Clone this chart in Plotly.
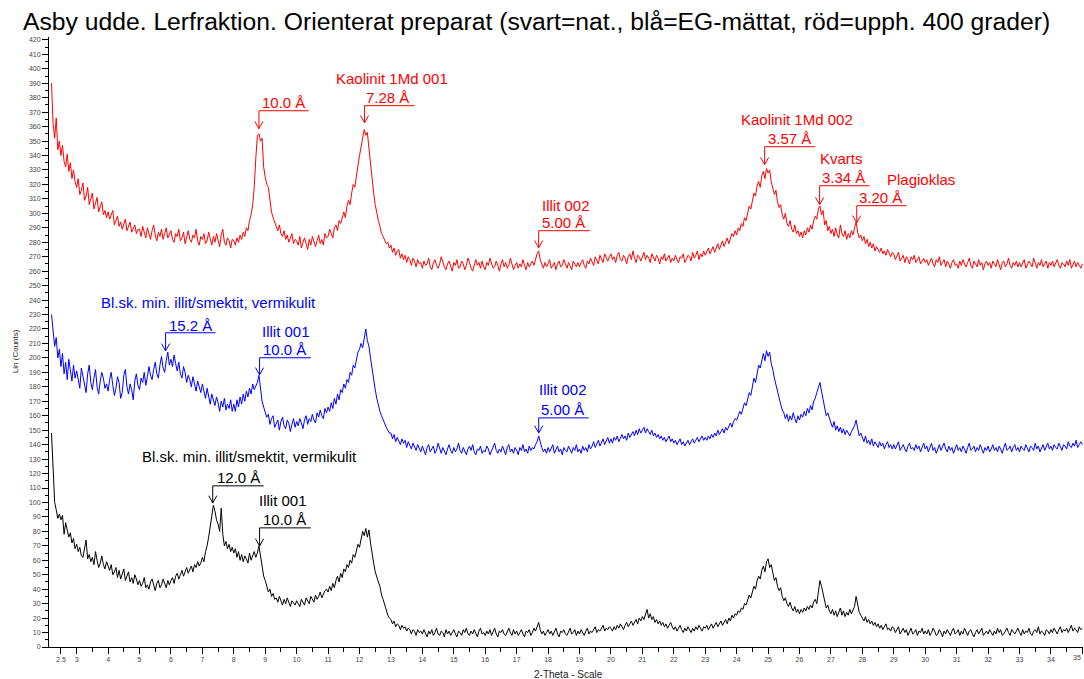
import numpy as np
import plotly.graph_objects as go

THETA_START = 2.2
THETA_STEP = 0.05

# Red trace: heated to 400 grader (counts), 2.20 .. 35.00
RED = [
    390, 362, 352, 366, 344, 350, 340, 347, 336, 332,
    341, 329, 335, 324, 330, 322,
    318, 324, 313, 316, 321, 309, 312, 318, 306, 310,
    314, 303, 308, 311, 301, 305, 308, 299, 302, 297,
    301, 296, 299, 302, 292, 295, 298, 291, 294, 289,
    293, 296, 288, 291, 294, 287, 290, 292, 286, 289,
    289, 284, 291, 287, 283, 290, 286, 282, 288, 292,
    285, 281, 287, 284, 289, 282, 286, 290, 283, 285,
    288, 282, 280, 286, 284, 289, 281, 283, 287, 279,
    284, 288, 282, 280, 285, 283, 289, 281, 278, 284,
    282, 286, 279, 281, 287, 283, 278, 284, 280, 286,
    282, 277, 285, 289, 280, 278, 283, 281, 276, 282,
    281, 278, 283, 280, 285, 282, 287, 284, 290, 288,
    295, 299, 306, 318, 338, 354, 355, 350, 352, 332,
    325, 320, 318, 308, 301, 297, 294, 290, 288, 292,
    286, 284, 288, 282, 285, 280, 283, 286, 279, 282,
    281, 278, 284, 276, 280, 283, 279, 275, 282, 278,
    284, 280, 277, 281, 285, 279, 282, 278, 286, 283,
    284, 289, 286, 283, 290, 292, 288, 295, 293, 298,
    301, 297, 305, 309, 306, 314, 320, 318, 327, 333,
    340, 346, 352, 358, 354, 356, 345, 333, 325, 314,
    306, 300, 295, 291, 286, 284, 281, 279, 280, 276,
    278, 273, 276, 271, 274, 275, 269, 272, 268, 271,
    266, 270, 268, 264, 269, 267, 263, 268, 265, 266,
    262, 267, 264, 265, 269, 263, 261, 266, 268, 264,
    262, 265, 270, 266, 263, 261, 265, 267, 263, 260,
    266, 264, 268, 262, 263, 267, 265, 261, 264, 269,
    266, 262, 260, 265, 268, 264, 266, 262, 267, 263,
    261, 266, 264, 269, 265, 262, 263, 267, 264, 260,
    265, 268, 263, 266, 262, 264, 269, 265, 261, 264,
    266, 262, 265, 263, 268, 264, 261, 266, 263, 265,
    267, 264, 269, 272, 274, 268, 265, 262, 266, 263,
    265, 268, 262, 264, 266, 261, 265, 267, 263, 264,
    268, 265, 262, 266, 264, 261, 267, 265, 263, 266,
    263, 266, 268, 264, 262, 267, 265, 269, 266, 264,
    270, 267, 265, 271, 268, 266, 272, 269, 267, 270,
    272, 268, 270, 266, 271, 273, 268, 267, 271, 269,
    265, 270, 272, 268, 274, 269, 266, 271, 270, 267,
    270, 273, 268, 271, 269, 266, 272, 270, 267, 271,
    269, 265, 270, 268, 272, 267, 269, 271, 266, 269,
    267, 271, 268, 266, 270, 269, 272, 266, 268, 271,
    270, 267, 273, 269, 271, 274, 268, 272, 270, 274,
    271, 273, 276, 272, 274, 277, 273, 276, 279, 275,
    278, 281, 277, 280, 283, 279, 282, 286, 284, 288,
    285, 290, 288, 293, 291, 297, 295, 301, 305, 303,
    309, 314, 312, 319, 322, 318, 326, 329, 324, 331,
    328, 330, 322, 318, 313, 316, 308, 304, 306, 299,
    296, 300, 293, 291, 295, 289, 287, 292, 286, 288,
    284, 287, 283, 288, 285, 290, 287, 292, 289, 295,
    298, 296, 303, 305, 299, 302, 292, 295, 288, 291,
    286, 289, 284, 290, 285, 283, 292, 286, 284, 288,
    282, 286, 283, 288, 285, 290, 294, 287, 283, 285,
    281, 284, 279, 282, 277, 280, 276, 279, 274, 277,
    275, 273, 276, 272, 274, 271, 275, 272, 270, 273,
    272, 268, 270, 273, 267, 269, 271, 266, 270, 268,
    265, 270, 268, 271, 266, 268, 270, 265, 267, 269,
    266, 268, 264, 267, 269, 265, 263, 268, 266, 270,
    264, 266, 268, 263, 267, 265, 262, 266, 268, 264,
    265, 262, 267, 264, 268, 265, 263, 266, 269, 264,
    262, 267, 265, 263, 268, 264, 266, 261, 265, 267,
    264, 266, 262, 267, 265, 263, 268, 264, 261, 266,
    267, 263, 265, 269, 264, 262, 266, 264, 267, 263,
    266, 263, 265, 268, 262, 264, 267, 265, 263, 269,
    265, 262, 266, 264, 268, 263, 265, 267, 262, 266,
    264, 267, 263, 265, 268, 264, 262, 266, 265, 263,
    267, 264, 268, 262, 265, 267, 263, 266, 264, 262,
    265,
]

# Blue trace: EG-maettat (counts)
BLUE = [
    230, 221, 208, 214, 200, 206, 194, 203, 189, 197,
    185, 199, 190, 184, 195, 186,
    191, 184, 179, 193, 187, 181, 176, 189, 195, 183,
    178, 186, 192, 180, 175, 184, 190, 186, 179, 182,
    177, 185, 190, 181, 174, 179, 187, 183, 172, 176,
    188, 192, 180, 175, 182, 178, 171, 184, 189, 181,
    178, 186, 183, 190, 181, 187, 194, 188, 185, 192,
    197, 189, 186, 195, 201, 193, 190, 198, 204, 195,
    199, 194, 202, 196, 191, 197, 189, 186, 194, 190,
    183, 188, 185, 180, 187, 182, 177, 184, 179, 176,
    182, 177, 172, 179, 174, 168, 175, 171, 167, 173,
    169, 163, 170, 166, 172, 164, 168, 165, 171, 163,
    168, 163, 171, 166, 173, 168, 175, 170, 177, 173,
    179, 175, 182, 178, 181, 183, 188, 178, 170, 166,
    163, 159, 161, 154, 158, 160, 152, 155, 157, 150,
    156, 159, 153, 151, 157, 155, 149, 154, 158, 152,
    156, 153, 158, 155, 151, 157, 160, 154, 158, 156,
    161, 157, 155, 162, 159, 164, 160, 158, 165, 162,
    166, 163, 169, 165, 172, 168, 175, 171, 178, 176,
    182, 179, 185, 183, 190, 188, 195, 193, 200, 204,
    206, 210, 207, 214, 220, 212, 208, 200, 192, 185,
    178, 172, 167, 163, 160, 157, 154, 152, 150, 148,
    148, 144, 147, 142, 145, 143, 140, 144, 141, 143,
    138, 142, 140, 137, 141, 139, 136, 140, 138, 135,
    139, 136, 133, 138, 140, 135, 137, 139, 134, 136,
    141, 137, 134, 138, 136, 133, 137, 140, 136, 134,
    138, 135, 137, 141, 136, 134, 138, 135, 133, 137,
    139, 136, 140, 135, 133, 137, 136, 139, 134, 136,
    135, 139, 137, 133, 136, 138, 141, 136, 134, 137,
    135, 139, 136, 133, 138, 140, 135, 137, 134, 138,
    136, 133, 138, 136, 140, 135, 137, 134, 139, 136,
    138, 137, 140, 142, 146, 141, 138, 135, 137, 134,
    138, 135, 137, 140, 134, 136, 139, 135, 137, 133,
    138, 136, 135, 139, 137, 134, 138, 136, 140, 135,
    137, 134, 139, 136, 138, 135, 140, 137, 139, 142,
    138, 140, 143, 139, 141, 144, 140, 143, 145, 141,
    144, 141, 145, 143, 146, 142, 145, 147, 144, 146,
    143, 148, 145, 147, 149, 146, 150, 147, 151, 148,
    150, 152, 148, 151, 149, 147, 150, 146, 148, 145,
    147, 144, 146, 143, 145, 142, 144, 146, 142, 144,
    141, 143, 140, 142, 144, 140, 142, 139, 141, 143,
    140, 142, 144, 141, 143, 145, 142, 144, 146, 143,
    145, 143, 146, 144, 147, 145, 148, 146, 150, 147,
    149, 151, 148, 152, 150, 153, 155, 152, 156, 158,
    157, 160, 163, 161, 166, 169, 167, 172, 176, 174,
    181, 186, 183, 190, 195, 193, 199, 203, 198, 205,
    201, 204, 196, 192, 186, 181, 176, 172, 168, 164,
    162, 158, 161, 156, 160, 157, 162, 158, 155, 160,
    157, 161, 159, 163, 160, 165, 162, 167, 164, 170,
    172, 176, 180, 183, 177, 171, 164, 160, 162, 158,
    155, 152, 156, 150, 153, 149, 152, 148, 151, 147,
    150, 148, 146, 149, 151, 153, 157, 150, 146, 148,
    145, 142, 146, 141, 143, 140, 144, 139, 142, 140,
    138, 142, 139, 141, 137, 140, 142, 138, 140, 137,
    140, 137, 139, 142, 136, 138, 140, 137, 135, 139,
    141, 137, 138, 136, 140, 137, 139, 135, 138, 141,
    137, 139, 135, 138, 141, 136, 138, 134, 137, 140,
    136, 138, 141, 137, 135, 139, 136, 138, 134, 137,
    140, 136, 138, 135, 139, 137, 134, 138, 141, 136,
    137, 139, 135, 138, 136, 140, 137, 134, 138, 136,
    139, 135, 137, 140, 136, 138, 135, 139, 137, 134,
    138, 141, 136, 137, 139, 135, 138, 140, 136, 138,
    135, 139, 137, 136, 140, 137, 135, 139, 138, 136,
    141, 137, 139, 135, 138, 140, 136, 138, 141, 137,
    139, 136, 140, 138, 137, 141, 138, 136, 140, 139,
    137, 142, 139, 138, 141, 139, 143, 138, 140, 142,
    140,
]

# Black trace: natural (counts)
BLACK = [
    148, 122, 100, 95, 89, 92, 88, 91, 78, 86,
    81, 76, 79, 72, 75, 68,
    71, 66, 69, 63, 62, 68, 74, 61, 64, 59,
    62, 57, 66, 60, 55, 58, 63, 57, 54, 59,
    56, 53, 57, 50, 52, 55, 48, 53, 47, 50,
    54, 46, 49, 52, 45, 48, 44, 50, 47, 43,
    46, 42, 44, 48, 41, 43, 40, 45, 47, 42,
    39, 44, 46, 41, 43, 47, 44, 41, 46, 43,
    46, 48, 44, 49, 51, 47, 50, 53, 49, 52,
    55, 51, 54, 56, 52, 57, 55, 59, 56, 58,
    62, 59, 66, 70, 76, 84, 90, 98, 94, 88,
    85, 80, 96, 78, 70, 73, 68, 71, 66, 69,
    65, 68, 62, 66, 60, 64, 59, 63, 61, 58,
    65, 60, 63, 66, 62, 65, 70, 63, 55, 49,
    46, 42, 38, 40, 35, 37, 33, 34, 31, 35,
    32, 29, 33, 30, 34, 31, 28, 32, 30, 29,
    32, 30, 28, 33, 31, 29, 34, 32, 30, 35,
    33, 31, 36, 33, 35, 38, 34, 37, 39, 40,
    38, 42, 39, 44, 41, 46, 49, 45, 51, 48,
    54, 52, 57, 55, 60, 58, 64, 62, 67, 71,
    69, 74, 80, 77, 82, 76, 81, 72, 63, 58,
    52, 48, 45, 42, 36, 33, 29, 26, 22, 20,
    19, 16, 18, 14, 16, 15, 12, 15, 13, 14,
    11, 13, 12, 9, 12, 11, 8, 12, 10, 11,
    9, 12, 10, 7, 11, 9, 12, 8, 10, 13,
    9, 8, 11, 10, 7, 12, 9, 11, 8, 10,
    12, 9, 7, 11, 10, 8, 12, 10, 13, 9,
    8, 11, 9, 12, 10, 7, 11, 13, 9, 10,
    8, 11, 9, 12, 8, 10, 13, 9, 7, 11,
    10, 12, 9, 8, 11, 13, 10, 8, 12, 9,
    11, 8, 10, 12, 9, 7, 11, 10, 12, 8,
    10, 13, 11, 14, 17, 12, 9, 11, 8, 10,
    12, 9, 11, 8, 10, 13, 9, 7, 11, 10,
    12, 9, 8, 11, 13, 9, 10, 12, 8, 11,
    9, 12, 10, 8, 11, 13, 9, 11, 10, 12,
    14, 10, 12, 11, 13, 15, 11, 13, 12, 14,
    13, 11, 14, 12, 15, 13, 16, 14, 12, 15,
    17, 14, 16, 18, 15, 17, 19, 16, 20, 18,
    21, 19, 22, 26, 20, 23, 19, 21, 17, 19,
    16, 18, 15, 17, 14, 16, 13, 15, 17, 14,
    12, 14, 11, 13, 15, 12, 10, 13, 11, 14,
    12, 10, 13, 11, 14, 12, 15, 13, 11, 14,
    13, 15, 12, 14, 16, 13, 15, 17, 14, 16,
    18, 15, 17, 19, 16, 20, 18, 22, 20, 23,
    22, 25, 24, 27, 26, 30, 29, 33, 36, 34,
    39, 42, 40, 46, 49, 47, 53, 56, 52, 59,
    61, 55, 57, 50, 46, 48, 42, 39, 41, 35,
    32, 34, 30, 28, 31, 27, 25, 28, 24, 26,
    23, 26, 24, 27, 25, 28, 26, 29, 27, 31,
    33, 30, 38, 46, 42, 37, 31, 27, 29, 25,
    23, 26, 22, 25, 21, 24, 27, 22, 25, 21,
    24, 22, 26, 23, 25, 28, 35, 30, 24, 22,
    20, 18, 21, 17, 19, 16, 18, 15, 17, 14,
    16, 13, 15, 12, 14, 16, 12, 13, 11, 14,
    13, 10, 12, 14, 9, 11, 13, 10, 12, 8,
    11, 13, 9, 10, 12, 8, 11, 10, 13, 9,
    11, 9, 12, 8, 10, 13, 11, 8, 9, 12,
    10, 7, 11, 9, 12, 10, 8, 11, 13, 9,
    10, 12, 8, 11, 9, 13, 10, 8, 11, 12,
    9, 7, 10, 12, 9, 11, 13, 8, 10, 11,
    9, 12, 10, 8, 11, 9, 13, 10, 12, 8,
    9, 11, 13, 10, 8, 12, 10, 9, 11, 13,
    10, 8, 12, 9, 11, 10, 13, 9, 8, 11,
    12, 10, 14, 9, 11, 10, 8, 12, 11, 9,
    12, 10, 13, 11, 9, 12, 14, 10, 12, 11,
    13, 10, 12, 15, 11, 13, 12, 10, 14, 12,
    13,
]

X_TICKS = [2.5] + list(range(3, 36))
X_TICK_LABELS = ["2.5"] + [str(v) for v in range(3, 36)]
Y_TICKS = list(range(0, 421, 10))

TITLE = "Asby udde. Lerfraktion. Orienterat preparat (svart=nat., blå=EG-mättat, röd=upph. 400 grader)"

COLORS = {"red": "#FF0000", "blue": "#0000FF", "black": "#000000"}

# peak labels: colour, arrow x, arrow tip y, bracket y, bracket end x, texts (text, centre x, centre y)
LABELS = [
    ("red", 8.80, 358.6, 371.0, 10.38, [("10.0 Å", 9.59, 376.6)]),
    ("red", 12.16, 362.7, 374.5, 13.75, [("Kaolinit 1Md 001", 13.04, 393.2), ("7.28 Å", 12.90, 380.0)]),
    ("red", 17.70, 276.2, 288.0, 19.32, [("Illit 002", 18.56, 305.3), ("5.00 Å", 18.48, 293.5)]),
    ("red", 24.89, 333.7, 346.1, 26.49, [("Kaolinit 1Md 002", 25.92, 364.8), ("3.57 Å", 25.67, 351.7)]),
    ("red", 26.64, 306.0, 319.1, 28.23, [("Kvarts", 27.34, 337.8), ("3.34 Å", 27.40, 324.7)]),
    ("red", 27.82, 293.5, 305.3, 29.41, [("Plagioklas", 29.86, 323.3), ("3.20 Å", 28.57, 310.8)]),
    ("blue", 5.83, 204.9, 217.4, 7.42, [("Bl.sk. min. illit/smektit, vermikulit", 7.21, 238.1), ("15.2 Å", 6.61, 222.2)]),
    ("blue", 8.82, 188.3, 200.1, 10.45, [("Illit 001", 9.65, 218.1), ("10.0 Å", 9.60, 205.6)]),
    ("blue", 17.70, 148.1, 158.5, 19.29, [("Illit 002", 18.46, 177.9), ("5.00 Å", 18.45, 164.1)]),
    ("black", 7.33, 99.7, 111.5, 8.95, [("Bl.sk. min. illit/smektit, vermikulit", 8.49, 131.5), ("12.0 Å", 8.14, 117.0)]),
    ("black", 8.82, 69.9, 82.4, 10.45, [("Illit 001", 9.57, 101.1), ("10.0 Å", 9.62, 87.9)]),
]


def theta_grid(n):
    return np.round(THETA_START + THETA_STEP * np.arange(n), 3)


FONT = "Liberation Sans, Arial, sans-serif"

fig = go.Figure()
for ys, col in ((BLACK, "black"), (BLUE, "blue"), (RED, "red")):
    fig.add_trace(go.Scatter(x=theta_grid(len(ys)), y=ys, mode="lines",
                             line=dict(color=COLORS[col], width=1), showlegend=False,
                             hoverinfo="skip"))

shapes = []
annotations = []
HEAD_DX = 0.13
HEAD_DY = 5.0
for col, ax, tip, ly, ex, texts in LABELS:
    c = COLORS[col]
    path = (f"M {ex},{ly} L {ax},{ly} L {ax},{tip} "
            f"M {ax - HEAD_DX},{tip + HEAD_DY} L {ax},{tip} L {ax + HEAD_DX},{tip + HEAD_DY}")
    shapes.append(dict(type="path", path=path, xref="x", yref="y",
                       line=dict(color=c, width=1)))
    for t, cx, cy in texts:
        annotations.append(dict(text=t, x=cx, y=cy, xref="x", yref="y",
                                showarrow=False, xanchor="center", yanchor="middle",
                                font=dict(family=FONT, size=15, color=c)))

annotations.append(dict(text=TITLE, x=0.471, y=1.0246, xref="paper", yref="paper",
                        showarrow=False, xanchor="center", yanchor="middle",
                        font=dict(family=FONT, size=24.7, color="#000")))
annotations.append(dict(text="Lin (Counts)", x=-0.0329, y=0.485, xref="paper", yref="paper",
                        showarrow=False, textangle=-90, xanchor="center", yanchor="middle",
                        font=dict(family=FONT, size=8, color="#222")))
annotations.append(dict(text="2-Theta - Scale", x=0.502, y=-0.0443, xref="paper", yref="paper",
                        showarrow=False, xanchor="center", yanchor="middle",
                        font=dict(family=FONT, size=10, color="#222")))
# last x tick label, kept fully inside the right edge of the page
annotations.append(dict(text=X_TICK_LABELS[-1], x=1.0, y=-0.0175, xref="paper", yref="paper",
                        showarrow=False, xanchor="right", yanchor="middle",
                        font=dict(family=FONT, size=7, color="#444")))

fig.update_layout(
    width=1084, height=679,
    margin=dict(l=49, r=1, t=37, b=32),
    paper_bgcolor="white", plot_bgcolor="white",
    shapes=shapes, annotations=annotations,
    showlegend=False,
    xaxis=dict(range=[2.12, 35.02], showgrid=False, zeroline=False,
               showline=True, linecolor="#000", linewidth=1,
               tickmode="array", tickvals=X_TICKS, ticktext=X_TICK_LABELS,
               ticks="outside", ticklen=6, tickwidth=1, tickcolor="#000",
               tickfont=dict(family=FONT, size=7, color="#444"),
               minor=dict(dtick=0.5, tick0=2.5, ticks="outside", ticklen=4,
                          tickwidth=1, tickcolor="#000", showgrid=False)),
    yaxis=dict(range=[0, 422], showgrid=False, zeroline=False,
               showline=True, linecolor="#000", linewidth=1,
               tickmode="array", tickvals=Y_TICKS,
               ticks="outside", ticklen=6, tickwidth=1, tickcolor="#000",
               tickfont=dict(family=FONT, size=7, color="#444"),
               minor=dict(dtick=5, tick0=0, ticks="outside", ticklen=3,
                          tickwidth=1, tickcolor="#000", showgrid=False)),
)

fig.write_html("out.html", config={"displayModeBar": False},
               post_script="document.body.style.margin='0';")
